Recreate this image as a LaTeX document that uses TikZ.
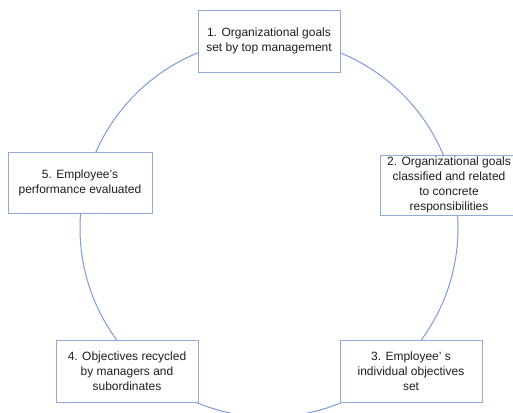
\documentclass[tikz,border=0pt]{standalone}
\usepackage{fontspec}
\setmainfont{Liberation Sans}
\definecolor{boxblue}{RGB}{143,170,220}
\definecolor{ringblue}{RGB}{125,155,222}
\definecolor{txt}{RGB}{30,30,30}
\begin{document}
\begin{tikzpicture}[x=1pt,y=-1pt,
  stage/.style={draw=boxblue, fill=white, line width=0.9pt,
    minimum width=142pt, minimum height=62pt, inner sep=0pt,
    align=center, text=txt, font=\fontsize{12}{15}\selectfont},
  ring/.style={draw=ringblue, line width=1pt}]
  \clip (0,0) rectangle (513,412);
  % cycle ring behind the stages
  \coordinate (hub) at (269,228);
  \draw[ring] (hub) circle[radius=189];
  % stages of the cycle
  \node[stage] (s1) at (269,41) {1. Organizational goals\\set by top management};
  \node[stage, minimum width=138pt, minimum height=60pt] (s2) at (449,185)
    {2. Organizational goals\\classified and related\\to concrete\\responsibilities};
  \node[stage] (s3) at (411,371) {3. Employee’ s\\individual objectives\\set};
  \node[stage] (s4) at (127,371) {4. Objectives recycled\\by managers and\\subordinates};
  \node[stage, minimum width=144pt, minimum height=61pt] (s5) at (80,182.5)
    {5. Employee’s\\performance evaluated};
\end{tikzpicture}
\end{document}
